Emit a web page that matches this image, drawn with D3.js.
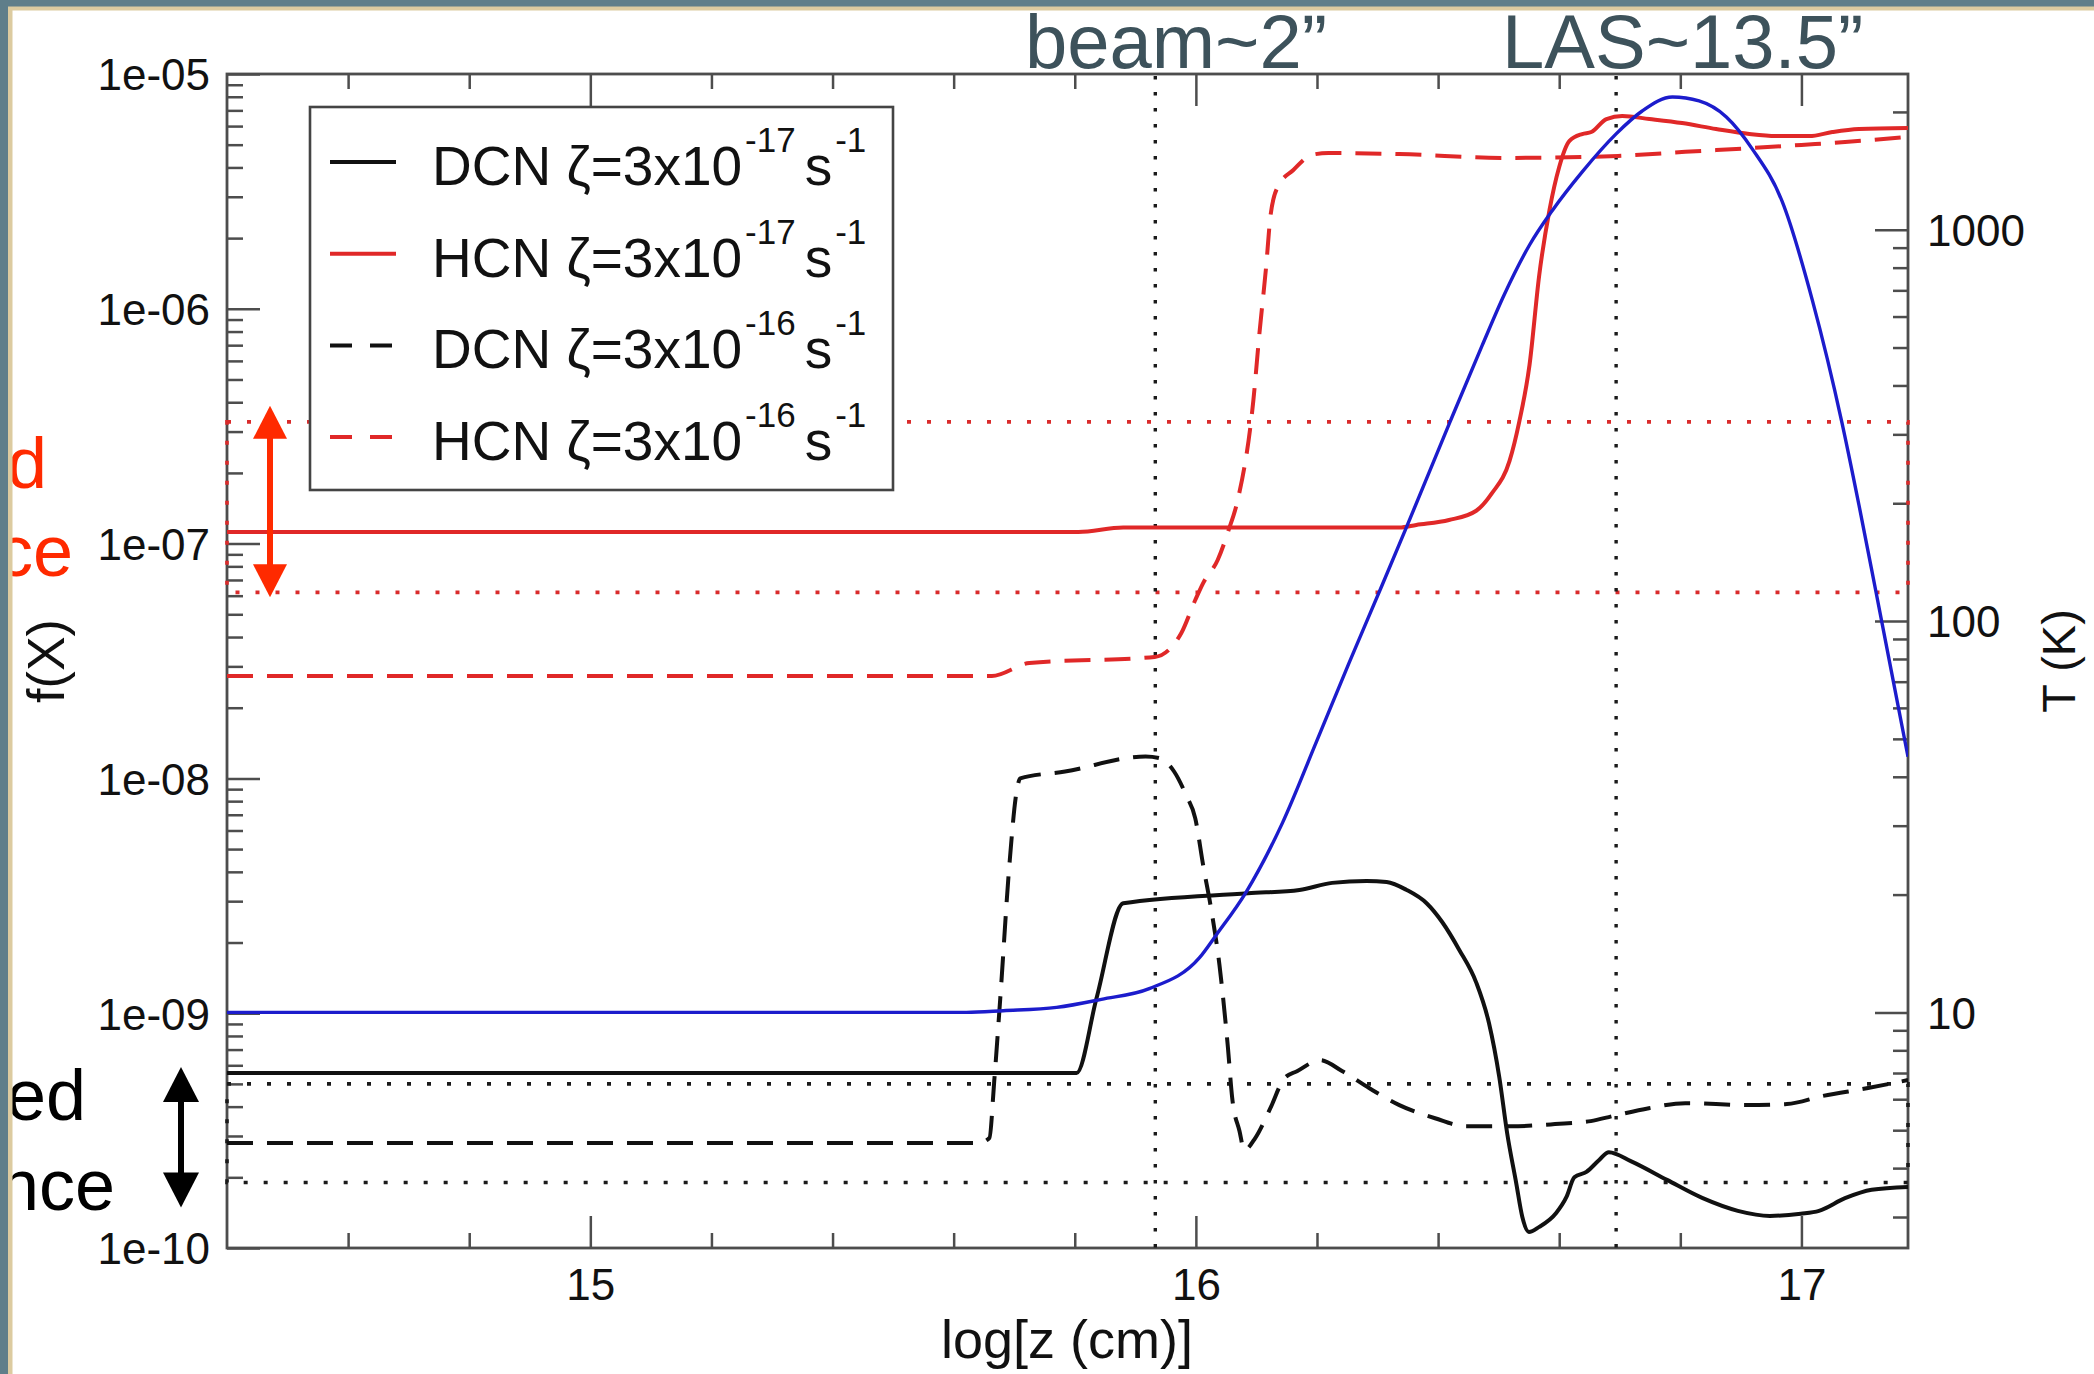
<!DOCTYPE html>
<html><head><meta charset="utf-8">
<script src="https://cdn.jsdelivr.net/npm/d3@7"></script>
<style>
html,body{margin:0;padding:0;background:#fff;}
svg{display:block;}
text{font-family:"Liberation Sans",Arial,Helvetica,sans-serif;}
</style>
</head><body>
<svg id="c" width="2094" height="1374"></svg>
<script>
// ---------------- DATA ----------------
// x = log10[z (cm)]
const logZ_DCN_17 = [14.4,15.803,15.836,15.88,16.086,16.171,16.225,16.282,16.315,16.348,16.381,16.407,16.435,16.463,16.484,16.501,16.514,16.529,16.539,16.55,16.567,16.595,16.612,16.625,16.645,16.666,16.682,16.719,16.778,16.837,16.895,16.948,16.999,17.029,17.072,17.116,17.176];
const f_DCN_17    = [5.56e-10,5.56e-10,1.16e-9,2.94e-9,3.24e-9,3.35e-9,3.59e-9,3.66e-9,3.62e-9,3.35e-9,2.94e-9,2.44e-9,1.86e-9,1.35e-9,9.08e-10,5.35e-10,3.09e-10,1.89e-10,1.36e-10,1.17e-10,1.23e-10,1.41e-10,1.65e-10,2.00e-10,2.11e-10,2.37e-10,2.56e-10,2.34e-10,1.95e-10,1.63e-10,1.44e-10,1.37e-10,1.40e-10,1.44e-10,1.63e-10,1.77e-10,1.82e-10];

const logZ_HCN_17 = [14.4,15.806,15.88,16.336,16.364,16.418,16.463,16.489,16.518,16.534,16.551,16.567,16.584,16.6,16.617,16.638,16.653,16.678,16.704,16.749,16.803,16.859,16.914,16.958,17.013,17.051,17.095,17.176];
const f_HCN_17    = [1.12e-7,1.12e-7,1.17e-7,1.17e-7,1.20e-7,1.26e-7,1.38e-7,1.64e-7,2.25e-7,3.30e-7,5.77e-7,1.39e-6,2.64e-6,4.02e-6,5.19e-6,5.55e-6,5.66e-6,6.43e-6,6.62e-6,6.43e-6,6.18e-6,5.83e-6,5.55e-6,5.44e-6,5.44e-6,5.66e-6,5.83e-6,5.89e-6];

const logZ_DCN_16 = [14.4,15.641,15.659,15.667,15.677,15.692,15.704,15.71,15.784,15.917,15.94,15.964,15.984,15.999,16.012,16.027,16.039,16.045,16.053,16.06,16.072,16.08,16.098,16.123,16.146,16.167,16.205,16.242,16.286,16.336,16.395,16.446,16.52,16.593,16.652,16.689,16.748,16.808,16.91,16.976,17.035,17.11,17.176];
const f_DCN_16    = [2.80e-10,2.80e-10,2.94e-10,5.14e-10,1.16e-9,4.27e-9,8.81e-9,1.00e-8,1.07e-8,1.24e-8,1.22e-8,1.07e-8,8.47e-9,6.76e-9,4.27e-9,2.61e-9,1.60e-9,1.16e-9,7.10e-10,4.35e-10,3.15e-10,2.61e-10,2.94e-10,3.94e-10,5.28e-10,5.66e-10,6.31e-10,5.66e-10,4.80e-10,4.06e-10,3.57e-10,3.30e-10,3.30e-10,3.37e-10,3.47e-10,3.65e-10,3.94e-10,4.14e-10,4.06e-10,4.10e-10,4.44e-10,4.80e-10,5.19e-10];

const logZ_HCN_16 = [14.4,15.663,15.725,15.932,15.955,15.976,15.999,16.012,16.036,16.054,16.069,16.095,16.105,16.116,16.123,16.135,16.161,16.191,16.219,16.336,16.513,16.697,16.808,16.919,17.0,17.072,17.174];
const f_HCN_16    = [2.73e-8,2.73e-8,3.10e-8,3.29e-8,3.52e-8,4.16e-8,5.75e-8,6.79e-8,8.51e-8,1.14e-7,1.53e-7,4.09e-7,7.89e-7,1.51e-6,2.46e-6,3.30e-6,3.90e-6,4.52e-6,4.61e-6,4.56e-6,4.39e-6,4.48e-6,4.66e-6,4.84e-6,4.99e-6,5.13e-6,5.40e-6];

// temperature (right axis, K)
const logZ_T = [14.4,15.621,15.682,15.77,15.844,15.923,16.006,16.034,16.083,16.143,16.199,16.253,16.308,16.348,16.419,16.473,16.509,16.551,16.589,16.638,16.694,16.737,16.787,16.831,16.876,16.919,16.968,17.018,17.067,17.095,17.123,17.166,17.176];
const T_K    = [10.0,10.0,10.1,10.3,10.8,11.5,13.8,15.8,20.3,30.5,49.1,78.2,124,174,321,507,681,914,1122,1406,1758,2011,2183,2133,1941,1607,1183,661,321,198,119,54.0,45];

// observed abundance ranges
const obsHCN = [6.2e-8, 3.3e-7];
const obsDCN = [1.9e-10, 5.0e-10];
// vertical markers (log z)
const markerLogZ = [15.933, 16.694];
const markerLabels = ["beam~2\u201D", "LAS~13.5\u201D"];

// ticks
const xMajorTicks = [15, 16, 17];
const xTickLabels = ["15", "16", "17"];
const xMinorTicks = [14.6,14.8,15.2,15.4,15.6,15.8,16.2,16.4,16.6,16.8];
const yLeftMajor = [1e-10,1e-9,1e-8,1e-7,1e-6,1e-5];
const yLeftLabels = ["1e-10","1e-09","1e-08","1e-07","1e-06","1e-05"];
const yRightMajor = [10,100,1000];
const yRightLabels = ["10","100","1000"];

// legend
const legendNames = ["DCN","HCN","DCN","HCN"];
const legendExp = ["-17","-17","-16","-16"];

// ---------------- CHART ----------------
const svg = d3.select("#c");
const L = 227, R = 1908, T = 74, B = 1248;
const x = d3.scaleLinear().domain([14.4, 17.176]).range([L, R]);
const yL = d3.scaleLog().domain([1e-10, 1e-5]).range([B, T]);
const yR = d3.scaleLog().domain([2.5, 2500]).range([B, T]);

const minorLeft = [];
for (let e = -10; e < -5; e++) for (let m = 2; m <= 9; m++) minorLeft.push(m * Math.pow(10, e));
const minorRight = [];
[[3,9,1],[2,9,10],[2,9,100],[2,2,1000]].forEach(([a,b,s]) => { for (let m=a;m<=b;m++) minorRight.push(m*s); });

const tickColor = "#4d4d4d";
function styleAxis(g, fs) {
  g.select(".domain").remove();
  g.selectAll("line").attr("stroke", tickColor).attr("stroke-width", 2.5);
  g.selectAll("text").attr("fill", "#111").attr("font-size", fs || 44)
    .attr("font-family", '"Liberation Sans",Arial,sans-serif');
}

// frame
svg.append("rect").attr("x", L).attr("y", T).attr("width", R - L).attr("height", B - T)
  .attr("fill", "none").attr("stroke", tickColor).attr("stroke-width", 2.8);

// bottom axis
svg.append("g").attr("transform", `translate(0,${B})`)
  .call(d3.axisBottom(x).tickValues(xMajorTicks).tickFormat((d,i)=>xTickLabels[i]).tickSizeInner(-32).tickSizeOuter(0).tickPadding(21))
  .call(g => styleAxis(g));
svg.append("g").attr("transform", `translate(0,${B})`)
  .call(d3.axisBottom(x).tickValues(xMinorTicks).tickFormat("").tickSizeInner(-15).tickSizeOuter(0))
  .call(g => styleAxis(g));
// top axis
svg.append("g").attr("transform", `translate(0,${T})`)
  .call(d3.axisTop(x).tickValues(xMajorTicks).tickFormat("").tickSizeInner(-32).tickSizeOuter(0))
  .call(g => styleAxis(g));
svg.append("g").attr("transform", `translate(0,${T})`)
  .call(d3.axisTop(x).tickValues(xMinorTicks).tickFormat("").tickSizeInner(-15).tickSizeOuter(0))
  .call(g => styleAxis(g));
// left axis
svg.append("g").attr("transform", `translate(${L},0)`)
  .call(d3.axisLeft(yL).tickValues(yLeftMajor).tickFormat((d,i)=>yLeftLabels[i]).tickSizeInner(-33).tickSizeOuter(0).tickPadding(17))
  .call(g => { styleAxis(g); g.selectAll("text").attr("dy", "0.36em"); });
svg.append("g").attr("transform", `translate(${L},0)`)
  .call(d3.axisLeft(yL).tickValues(minorLeft).tickFormat("").tickSizeInner(-16).tickSizeOuter(0))
  .call(g => styleAxis(g));
// right axis
svg.append("g").attr("transform", `translate(${R},0)`)
  .call(d3.axisRight(yR).tickValues(yRightMajor).tickFormat((d,i)=>yRightLabels[i]).tickSizeInner(-33).tickSizeOuter(0).tickPadding(19))
  .call(g => { styleAxis(g); g.selectAll("text").attr("dy", "0.36em"); });
svg.append("g").attr("transform", `translate(${R},0)`)
  .call(d3.axisRight(yR).tickValues(minorRight).tickFormat("").tickSizeInner(-15).tickSizeOuter(0))
  .call(g => styleAxis(g));

// axis titles
svg.append("text").attr("x", 1067).attr("y", 1358).attr("text-anchor", "middle")
  .attr("font-size", 54).attr("fill", "#111").text("log[z (cm)]");
svg.append("text").attr("transform", "translate(64,661) rotate(-90)").attr("text-anchor", "middle")
  .attr("font-size", 52).attr("fill", "#111").text("f(X)");
svg.append("text").attr("transform", "translate(2075,661) rotate(-90)").attr("text-anchor", "middle")
  .attr("font-size", 47).attr("fill", "#111").text("T (K)");

// observed ranges (dotted boxes)
const obsBoxes = [{r: obsHCN, c: "#d92b2b"}, {r: obsDCN, c: "#1a1a1a"}];
obsBoxes.forEach(o => {
  svg.append("rect").attr("x", x(14.4)).attr("width", x(17.176) - x(14.4))
    .attr("y", yL(o.r[1])).attr("height", yL(o.r[0]) - yL(o.r[1]))
    .attr("fill", "none").attr("stroke", o.c).attr("stroke-width", 3.6)
    .attr("stroke-dasharray", "4,16");
});

// vertical markers
markerLogZ.forEach(v => {
  svg.append("line").attr("x1", x(v)).attr("x2", x(v)).attr("y1", T + 2).attr("y2", B)
    .attr("stroke", "#1a1a1a").attr("stroke-width", 3.4).attr("stroke-dasharray", "3.5,12.5");
});

// data curves
svg.append("clipPath").attr("id", "plotclip").append("rect")
  .attr("x", L).attr("y", T).attr("width", R - L).attr("height", B - T);
const plot = svg.append("g").attr("clip-path", "url(#plotclip)");

const series = [
  {xs: logZ_DCN_17, ys: f_DCN_17, scale: yL, color: "#111111", dash: null, w: 4},
  {xs: logZ_HCN_17, ys: f_HCN_17, scale: yL, color: "#e02828", dash: null, w: 4},
  {xs: logZ_DCN_16, ys: f_DCN_16, scale: yL, color: "#111111", dash: "26,14", w: 4},
  {xs: logZ_HCN_16, ys: f_HCN_16, scale: yL, color: "#e02828", dash: "26,14", w: 4},
  {xs: logZ_T, ys: T_K, scale: yR, color: "#1c1ccc", dash: null, w: 3.4}
];
series.forEach(s => {
  const pts = s.xs.map((v, i) => [v, s.ys[i]]);
  const line = d3.line().x(d => x(d[0])).y(d => s.scale(d[1])).curve(d3.curveMonotoneX);
  plot.append("path").attr("d", line(pts)).attr("fill", "none")
    .attr("stroke", s.color).attr("stroke-width", s.w)
    .attr("stroke-dasharray", s.dash).attr("stroke-linejoin", "round");
});

// legend
const lg = svg.append("g");
lg.append("rect").attr("x", 310).attr("y", 107).attr("width", 583).attr("height", 383)
  .attr("fill", "#fff").attr("stroke", "#444").attr("stroke-width", 2.6);
legendNames.forEach((nm, i) => {
  const s = series[i];
  const base = 185 + i * 91.7;
  lg.append("line").attr("x1", 330).attr("x2", 396).attr("y1", base - 23).attr("y2", base - 23)
    .attr("stroke", s.color).attr("stroke-width", 4)
    .attr("stroke-dasharray", s.dash ? "22,18" : null);
  const t = lg.append("text").attr("x", 432).attr("y", base).attr("font-size", 55).attr("fill", "#111");
  t.append("tspan").text(nm + " \u03B6=3x10");
  t.append("tspan").attr("dx", 3).attr("dy", -33).attr("font-size", 35).text(legendExp[i]);
  t.append("tspan").attr("dx", 9).attr("dy", 33).attr("font-size", 55).text("s");
  t.append("tspan").attr("dx", 3).attr("dy", -33).attr("font-size", 35).text("-1");
});

// marker annotations above plot
svg.append("text").attr("x", 1025).attr("y", 68).attr("font-size", 76).attr("fill", "#3d525b").text(markerLabels[0]);
svg.append("text").attr("x", 1502).attr("y", 68).attr("font-size", 76).attr("fill", "#3d525b").text(markerLabels[1]);

// observed-range arrows
function dblArrow(cx, yTop, yBot, head, half, color) {
  svg.append("line").attr("x1", cx).attr("x2", cx).attr("y1", yTop + head - 2).attr("y2", yBot - head + 2)
    .attr("stroke", color).attr("stroke-width", 6);
  svg.append("path").attr("d", `M${cx},${yTop}L${cx-half},${yTop+head}L${cx+half},${yTop+head}Z`).attr("fill", color);
  svg.append("path").attr("d", `M${cx},${yBot}L${cx-half},${yBot-head}L${cx+half},${yBot-head}Z`).attr("fill", color);
}
dblArrow(270, yL(obsHCN[1]) - 16, yL(obsHCN[0]) + 5, 33, 17, "#ff2a00");
dblArrow(181, yL(obsDCN[1]) - 17, yL(obsDCN[0]) + 25, 35, 18, "#000");

// side labels (partly cut off by slide frame, as in the original slide)
const side = [
  {t: "Observed", x: 47, y: 488, c: "#ff2a00"},
  {t: "abundance", x: 73, y: 576, c: "#ff2a00"},
  {t: "Observed", x: 86, y: 1120, c: "#000"},
  {t: "abundance", x: 115, y: 1210, c: "#000"}
];
side.forEach(s => svg.append("text").attr("x", s.x).attr("y", s.y).attr("text-anchor", "end")
  .attr("font-size", 72).attr("fill", s.c).text(s.t));

// slide frame bands
svg.append("rect").attr("x", 0).attr("y", 0).attr("width", 2094).attr("height", 10.5).attr("fill", "#dccba0");
svg.append("rect").attr("x", 0).attr("y", 0).attr("width", 12.5).attr("height", 1374).attr("fill", "#dccba0");
svg.append("rect").attr("x", 0).attr("y", 0).attr("width", 2094).attr("height", 6.5).attr("fill", "#5f7e8a");
svg.append("rect").attr("x", 0).attr("y", 0).attr("width", 8).attr("height", 1374).attr("fill", "#5f7e8a");
</script>
</body></html>
